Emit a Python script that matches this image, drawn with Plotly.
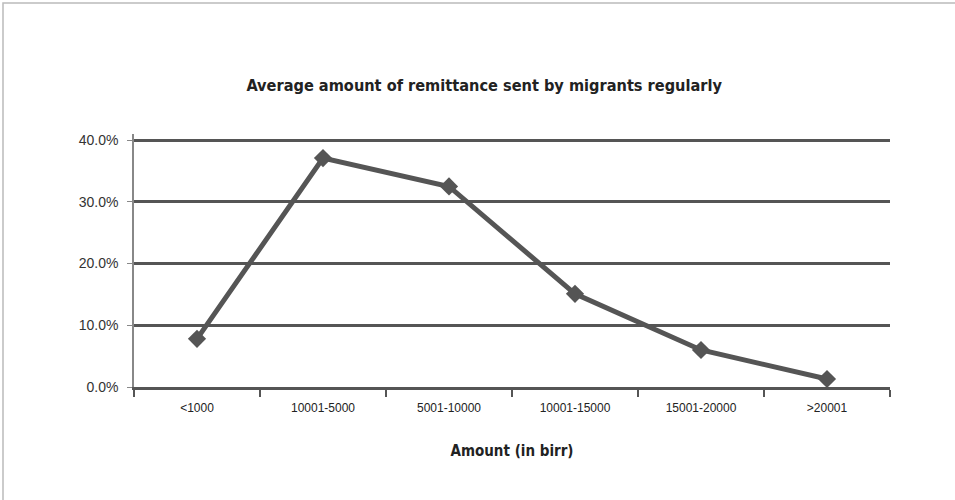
import plotly.graph_objects as go

categories = ["<1000", "10001-5000", "5001-10000", "10001-15000", "15001-20000", ">20001"]
values = [0.078, 0.371, 0.325, 0.151, 0.060, 0.013]
y_ticks = [0.0, 0.1, 0.2, 0.3, 0.4]

fig = go.Figure()
fig.add_trace(go.Scatter(
    x=categories, y=values, mode="lines+markers",
    line=dict(color="#555555", width=5),
    marker=dict(symbol="diamond", size=14, color="#555555"),
    showlegend=False, cliponaxis=False,
))

fig.update_layout(
    width=955, height=500,
    margin=dict(l=134, r=65, t=134, b=113),
    paper_bgcolor="white", plot_bgcolor="white",
    title=dict(text="<b>Average amount of remittance sent by migrants regularly</b>",
               x=0.507, xanchor="center", y=0.83, yanchor="middle",
               font=dict(family="DejaVu Sans Condensed, sans-serif", size=16.2, color="#222222")),
    xaxis=dict(
        type="category", range=[-0.5, 5.5],
        tickson="boundaries", ticks="outside", ticklen=7, tickcolor="#555555", tickwidth=1.5,
        showline=True, linecolor="#555555", linewidth=2.5,
        showgrid=False, ticklabelstandoff=8,
        tickfont=dict(family="Liberation Sans, Arial, sans-serif", size=12, color="#222222"),
        title=dict(text="<b>Amount (in birr)</b>", standoff=32,
                   font=dict(family="DejaVu Sans Condensed, sans-serif", size=15, color="#222222")),
    ),
    yaxis=dict(
        range=[0, 0.41], tickvals=y_ticks, tickformat=".1%",
        showgrid=True, gridcolor="#555555", gridwidth=2.5,
        zeroline=False,
        showline=True, linecolor="#888888", linewidth=1.5,
        ticks="outside", ticklen=5, tickcolor="#888888",
        ticklabelstandoff=6,
        tickfont=dict(family="Liberation Sans, Arial, sans-serif", size=14, color="#333333"),
    ),
    shapes=[dict(type="rect", xref="paper", yref="paper",
                 x0=-131/756, x1=1 + 80/756, y0=-123/253, y1=1 + 131/253,
                 line=dict(color="#bbbbbb", width=1.5), layer="below")],
)

fig.write_html("out.html")
